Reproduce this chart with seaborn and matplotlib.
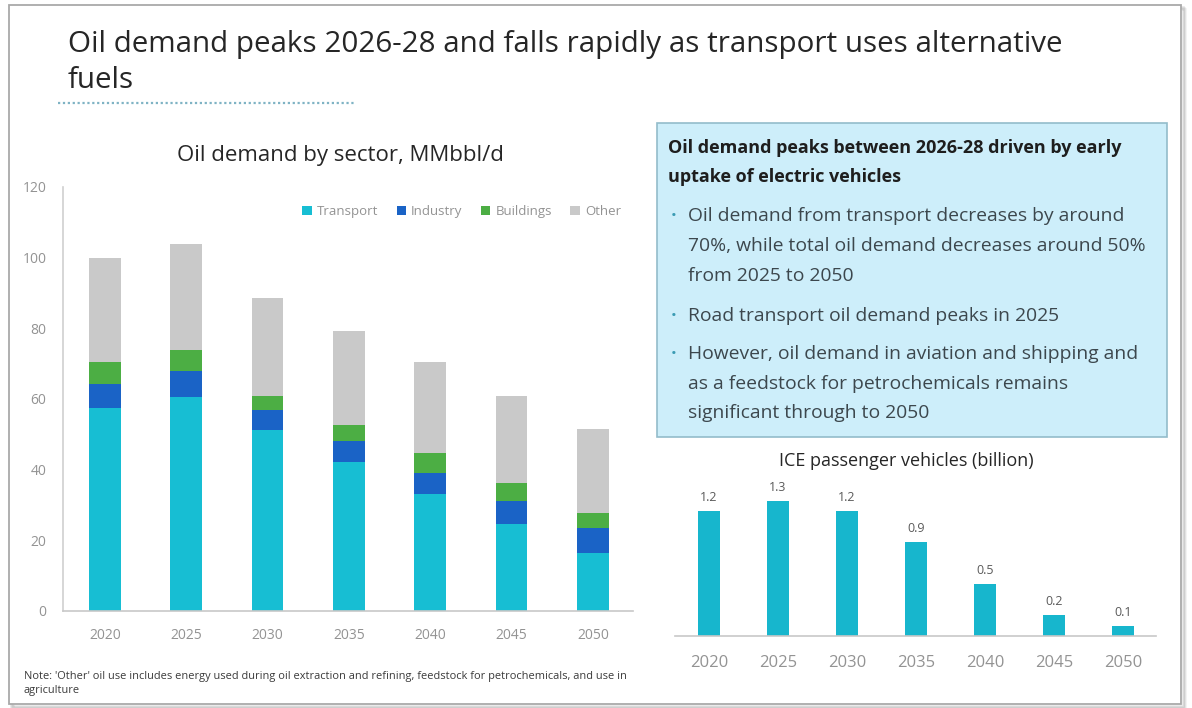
import matplotlib
matplotlib.use("Agg")
import matplotlib.pyplot as plt
from matplotlib.patches import Rectangle, Patch
from matplotlib.lines import Line2D
import seaborn as sns
import pandas as pd

# ---- data -------------------------------------------------------------
years = ["2020", "2025", "2030", "2035", "2040", "2045", "2050"]
transport = [57.5, 60.5, 51.3, 42.3, 33.0, 24.7, 16.3]
industry = [6.8, 7.4, 5.5, 5.7, 6.1, 6.4, 7.3]
buildings = [6.3, 6.1, 4.0, 4.7, 5.5, 5.0, 4.1]
other = [29.4, 29.8, 27.7, 26.6, 25.9, 24.7, 23.8]
sectors = ["Transport", "Industry", "Buildings", "Other"]

ice_vehicles = [1.2, 1.3, 1.2, 0.9, 0.5, 0.2, 0.1]

y_ticks = [0, 20, 40, 60, 80, 100, 120]

title = "Oil demand peaks 2026-28 and falls rapidly as transport uses alternative"
title_line2 = "fuels"
left_title = "Oil demand by sector, MMbbl/d"
right_title = "ICE passenger vehicles (billion)"
box_heading = ["Oil demand peaks between 2026-28 driven by early",
               "uptake of electric vehicles"]
bullets = [
    ["Oil demand from transport decreases by around",
     "70%, while total oil demand decreases around 50%",
     "from 2025 to 2050"],
    ["Road transport oil demand peaks in 2025"],
    ["However, oil demand in aviation and shipping and",
     "as a feedstock for petrochemicals remains",
     "significant through to 2050"],
]
note = ["Note: 'Other' oil use includes energy used during oil extraction and refining, feedstock for petrochemicals, and use in",
        "agriculture"]

# ---- style ------------------------------------------------------------
sns.set_theme(style="white")
plt.rcParams["font.family"] = ["Open Sans", "DejaVu Sans"]

C_TRANSPORT = "#17bed3"
C_INDUSTRY = "#1a63c6"
C_BUILDINGS = "#4cae44"
C_OTHER = "#c9c9c9"
C_ICE = "#17b6cd"
TICK_C = "#939393"
TEXT_C = "#262626"

W, H = 1192, 708
fig = plt.figure(figsize=(W / 100, H / 100), dpi=100)
fig.patch.set_facecolor("white")


def fx(x):
    return x / W


def fy(y):
    return 1 - y / H


# slide frame with a soft shadow (kept behind the axes)
for i, a in enumerate([0.05, 0.07, 0.09]):
    off = 4 - i
    fig.patches.append(Rectangle((fx(9 + off), fy(704 + off)), fx(1172), (704 - 5) / H,
                                 transform=fig.transFigure, facecolor="none",
                                 edgecolor="black", alpha=a, lw=2, zorder=-3))
fig.patches.append(Rectangle((fx(9), fy(704)), fx(1172), (704 - 5) / H,
                             transform=fig.transFigure, facecolor="white",
                             edgecolor="#a9a9a9", lw=1.3, zorder=-2))

# main title and dotted rule
fig.text(fx(68), fy(52), title, fontsize=21.3, color=TEXT_C, va="baseline")
fig.text(fx(68), fy(88), title_line2, fontsize=21.3, color=TEXT_C, va="baseline")
fig.lines.append(Line2D([fx(58), fx(356)], [fy(103), fy(103)], transform=fig.transFigure,
                        color="#7fb3c4", lw=1.6, linestyle=(0, (1, 1.2))))

# ---- left chart: stacked oil demand by sector -------------------------
df = pd.DataFrame({"year": years, "Transport": transport, "Industry": industry,
                   "Buildings": buildings, "Other": other})
df["c_transport"] = df["Transport"]
df["c_industry"] = df["c_transport"] + df["Industry"]
df["c_buildings"] = df["c_industry"] + df["Buildings"]
df["c_other"] = df["c_buildings"] + df["Other"]

axL = fig.add_axes([fx(63), fy(611), fx(633) - fx(63), (611 - 187) / H])
for col, color in [("c_other", C_OTHER), ("c_buildings", C_BUILDINGS),
                   ("c_industry", C_INDUSTRY), ("c_transport", C_TRANSPORT)]:
    sns.barplot(data=df, x="year", y=col, color=color, width=0.39,
                saturation=1, ax=axL, linewidth=0)
axL.set_xlim(-0.517, 6.494)
axL.set_ylim(0, 120)
axL.set_yticks(y_ticks)
axL.set_xlabel("")
axL.set_ylabel("")
axL.patch.set_alpha(0)
for s in ["top", "right"]:
    axL.spines[s].set_visible(False)
axL.spines["left"].set_color("#d0d0d0")
axL.spines["bottom"].set_color("#c8c8c8")
axL.spines["left"].set_linewidth(1.2)
axL.spines["bottom"].set_linewidth(1.2)
axL.tick_params(axis="both", length=0, colors=TICK_C, labelsize=10)
axL.tick_params(axis="y", pad=12)
axL.tick_params(axis="x", pad=12)
fig.text(fx(340), fy(155), left_title, fontsize=16, color=TEXT_C, ha="center", va="center")

handles = [Patch(facecolor=c, edgecolor="none") for c in
           [C_TRANSPORT, C_INDUSTRY, C_BUILDINGS, C_OTHER]]
axL.legend(handles, sectors, loc="upper right", bbox_to_anchor=(1.0, 0.985), ncol=4,
           frameon=False, fontsize=9.5, labelcolor=TICK_C, handlelength=0.7,
           handleheight=0.7, handletextpad=0.4, columnspacing=1.4)

# note under the left chart
fig.text(fx(24), fy(676), note[0], fontsize=7.9, color="#3a3a3a", va="center")
fig.text(fx(24), fy(690), note[1], fontsize=7.9, color="#3a3a3a", va="center")

# ---- text box ---------------------------------------------------------
fig.patches.append(Rectangle((fx(657), fy(437)), fx(1167) - fx(657), (437 - 123) / H,
                             transform=fig.transFigure, facecolor="#cdeefa",
                             edgecolor="#93bccb", lw=1.2, zorder=1))
BOX_C = "#3c474d"
fig.text(fx(668), fy(148), box_heading[0], fontsize=13, fontweight="bold",
         color="#1e1e1e", va="center", zorder=2)
fig.text(fx(668), fy(177), box_heading[1], fontsize=13, fontweight="bold",
         color="#1e1e1e", va="center", zorder=2)
line_y = [[216, 246, 276], [316], [354, 384, 413]]
for lines, ys in zip(bullets, line_y):
    fig.text(fx(674), fy(ys[0]), "•", fontsize=11, color="#3a9bb3", va="center",
             ha="center", zorder=2)
    for t, y in zip(lines, ys):
        fig.text(fx(688), fy(y), t, fontsize=13.9, color=BOX_C, va="center", zorder=2)

# ---- right chart: ICE passenger vehicles ------------------------------
dfi = pd.DataFrame({"year": years, "ice": ice_vehicles})
axR = fig.add_axes([fx(675), fy(636), fx(1156) - fx(675), (636 - 480) / H])
sns.barplot(data=dfi, x="year", y="ice", color=C_ICE, width=0.31, saturation=1,
            ax=axR, linewidth=0)
axR.set_xlim(-0.493, 6.478)
axR.set_ylim(0, 1.5)
axR.set_yticks([])
axR.set_xlabel("")
axR.set_ylabel("")
axR.patch.set_alpha(0)
for s in ["top", "right", "left"]:
    axR.spines[s].set_visible(False)
axR.spines["bottom"].set_color("#c8c8c8")
axR.spines["bottom"].set_linewidth(1.2)
axR.tick_params(axis="x", length=0, colors=TICK_C, labelsize=12, pad=14)
for cont in axR.containers:
    axR.bar_label(cont, labels=[f"{v:.1f}" for v in ice_vehicles], padding=5,
                  fontsize=9, color="#5a5a5a")
fig.text(fx(906), fy(461), right_title, fontsize=13, color=TEXT_C, ha="center", va="center")

fig.savefig("out.png", dpi=100)
